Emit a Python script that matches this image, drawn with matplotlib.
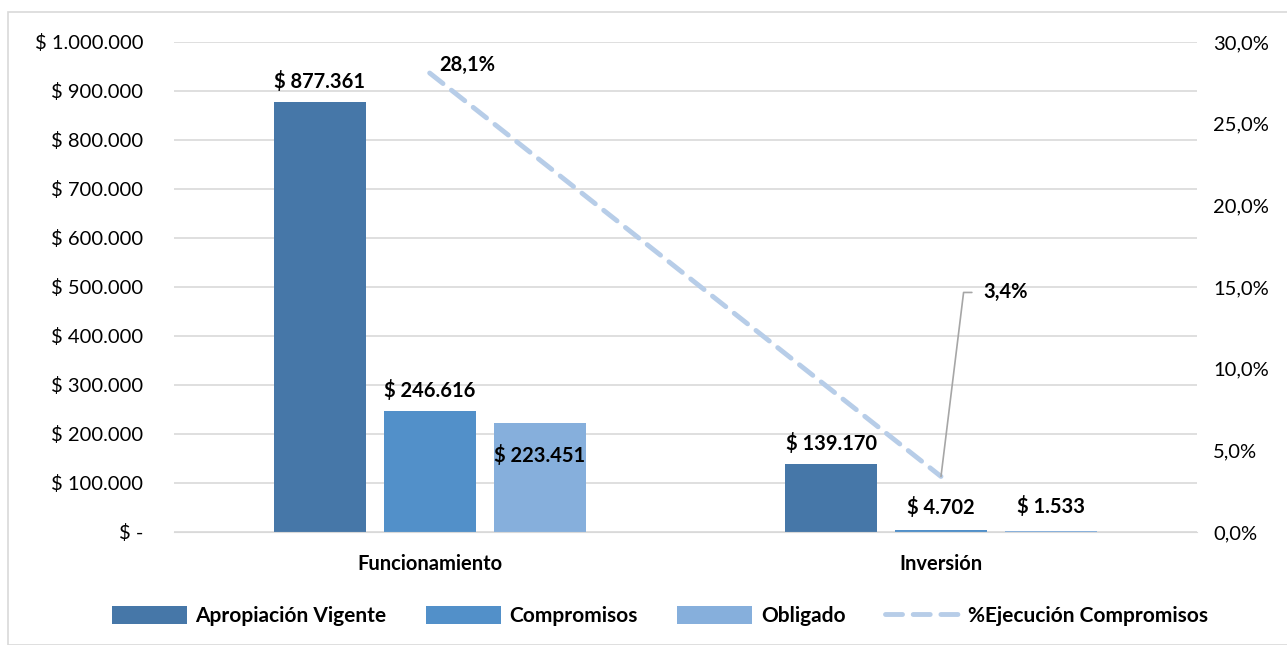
import numpy as np
import matplotlib.pyplot as plt
from matplotlib.patches import Rectangle

plt.rcParams['font.family'] = ['Lato', 'DejaVu Sans']

categories = ["Funcionamiento", "Inversión"]
apropiacion = [877361, 139170]
compromisos = [246616, 4702]
obligado = [223451, 1533]
pct_ejecucion = [28.1, 3.4]

series_names = ["Apropiación Vigente", "Compromisos", "Obligado"]
series_colors = ["#4677A8", "#5290C9", "#86AFDC"]
line_color = "#B7CDE8"

left_ticks = np.arange(0, 1000001, 100000)
right_ticks = np.arange(0, 31, 5)

FS = 14.5


def money(v):
    if v == 0:
        return "$ -"
    return "$ " + f"{int(v):,}".replace(",", ".")


def pct(v):
    return f"{v:.1f}%".replace(".", ",")


fig = plt.figure(figsize=(12.87, 6.45), dpi=100)
fig.patches.append(Rectangle((8 / 1287, 0), 1.0, 1 - 12 / 645, transform=fig.transFigure,
                             fill=False, edgecolor="#D9D9D9", lw=1.2))
ax = fig.add_axes([0.1352, 0.1752, 0.7946, 0.7597])
ax2 = ax.twinx()

x = np.arange(len(categories))
width = 0.18
step = 0.215
label_offsets = [[10, 10, -22], [10, 12, 14]]  # pixel offsets of the value labels
all_series = [apropiacion, compromisos, obligado]
for i, (vals, name, col) in enumerate(zip(all_series, series_names, series_colors)):
    xs = x + (i - 1) * step
    ax.bar(xs, vals, width, color=col, label=name, zorder=2)
    for j, (xx, v) in enumerate(zip(xs, vals)):
        ax.annotate(money(v), (xx, v), xytext=(0, label_offsets[j][i]),
                    textcoords="offset pixels", ha="center", va="bottom" if label_offsets[j][i] > 0 else "top",
                    fontsize=FS, fontweight="bold", color="black")

ax.set_xlim(-0.5, 1.5)
ax.set_ylim(0, 1000000)
ax.set_yticks(left_ticks)
ax.set_yticklabels([money(v) for v in left_ticks], fontsize=FS)
ax.set_xticks(x)
ax.set_xticklabels(categories, fontsize=FS, fontweight="bold")
ax.grid(axis="y", color="#D9D9D9", lw=1.2, zorder=0)
ax.set_axisbelow(True)
ax.tick_params(axis="y", length=0, pad=22)
ax.tick_params(axis="x", length=0, pad=16)
for s in ax.spines.values():
    s.set_visible(False)
ax.spines["bottom"].set_visible(True)
ax.spines["bottom"].set_color("#D9D9D9")

ax2.plot(x, pct_ejecucion, color=line_color, lw=3.5, ls=(0, (3.5, 2.2)), solid_capstyle="round",
         dash_capstyle="round", label="%Ejecución Compromisos", zorder=3)
ax2.set_ylim(0, 30)
ax2.set_yticks(right_ticks)
ax2.set_yticklabels([pct(v) for v in right_ticks], fontsize=FS)
ax2.tick_params(axis="y", length=0, pad=12)
for s in ax2.spines.values():
    s.set_visible(False)

ax2.annotate(pct(pct_ejecucion[0]), (x[0], pct_ejecucion[0]), xytext=(10, 8),
             textcoords="offset pixels", ha="left", va="center", fontsize=FS, fontweight="bold")
ax2.annotate(pct(pct_ejecucion[1]), (x[1], pct_ejecucion[1]), xytext=(42, 184),
             textcoords="offset pixels", ha="left", va="center", fontsize=FS, fontweight="bold",
             arrowprops=dict(arrowstyle="-", color="#A6A6A6", lw=1.2, shrinkA=6, shrinkB=0,
                             relpos=(0, 0.5),
                             connectionstyle="angle,angleA=180,angleB=83,rad=0"))

h1, l1 = ax.get_legend_handles_labels()
h2, l2 = ax2.get_legend_handles_labels()
leg = fig.legend(h1 + h2, l1 + l2, loc="center", bbox_to_anchor=(0.513, 0.045), ncol=4,
                 frameon=False, handlelength=3.6, handleheight=1.0, columnspacing=1.9,
                 handletextpad=0.4, prop={"size": 15, "weight": "bold"})

fig.savefig("out.png", dpi=100)
